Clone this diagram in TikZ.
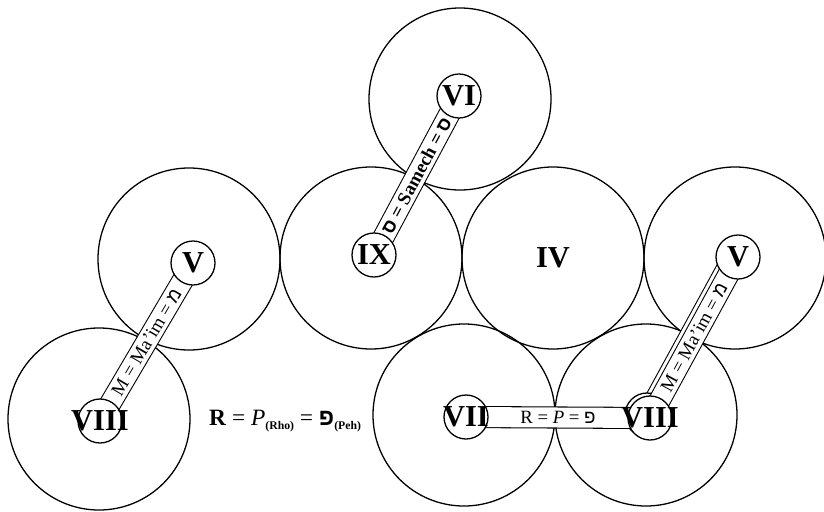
\documentclass[tikz,border=0pt]{standalone}
\usepackage{fontspec}
\setmainfont{Liberation Serif}
\newfontfamily\hebfont[Script=Hebrew]{Liberation Sans}
\TeXXeTstate=1
\newcommand{\heb}[1]{{\hebfont\beginR#1\endR}}
\newcommand{\lowsub}[1]{\raisebox{-0.3ex}{\fontsize{10}{10}\selectfont\bfseries #1}}

\tikzset{
  disc/.style={circle, draw, line width=1.1pt, minimum size=5.46cm, inner sep=0pt},
  ring/.style={circle, draw, fill=white, line width=1.1pt, minimum size=1.32cm, inner sep=0pt},
  numeral/.style={font=\fontsize{26}{26}\selectfont\bfseries, inner sep=0pt},
  strap/.style={double=white, double distance=0.6cm, line width=0.9pt},
  straplabel/.style={font=\fontsize{16}{16}\selectfont, inner sep=0pt},
  caption/.style={font=\fontsize{20}{20}\selectfont, inner sep=0pt}
}

\begin{document}
\begin{tikzpicture}[x=0.03cm, y=-0.03cm]
  \useasboundingbox (0,0) rectangle (824,512);

  % large circles
  \node[disc] (disc-vi) at (460,99) {};
  \node[disc] (disc-vl) at (189,259) {};
  \node[disc] (disc-ix) at (371,258) {};
  \node[disc] (disc-iv) at (553,258) {};
  \node[disc] (disc-vr) at (735,258) {};
  \node[disc] (disc-viiil) at (99,419) {};
  \node[disc] (disc-vii) at (464,415) {};
  \node[disc] (disc-viiir) at (646,415) {};

  % centres of the small rings
  \coordinate (vi) at (459,96);
  \coordinate (ix) at (374,255);
  \coordinate (vl) at (193,263);
  \coordinate (viiil) at (100,421);
  \coordinate (vr) at (738,257);
  \coordinate (viiir) at (650,418);
  \coordinate (vii) at (466,417);

  % faint double outline on the right strap
  \begin{scope}[transform canvas={shift={(-3,-3)}}]
    \draw[strap] (viiir) -- (vr);
    \node[ring] at (viiir) {};
  \end{scope}

  % straps
  \draw[strap] (ix) -- node[sloped, straplabel] {\bfseries\heb{ס} = Samech = \heb{ס}} (vi);
  \draw[strap] (viiil) -- node[sloped, straplabel] {M = Ma’im = \heb{מ}} (vl);
  \draw[strap] (viiir) -- node[sloped, straplabel] {M = Ma’im = \heb{מ}} (vr);
  \draw[strap] (vii) -- node[straplabel] {R = \textit{P} = \heb{פ}} (viiir);

  % small rings
  \node[ring] (ring-vi) at (vi) {};
  \node[ring] (ring-ix) at (ix) {};
  \node[ring] (ring-vl) at (vl) {};
  \node[ring] (ring-viiil) at (viiil) {};
  \node[ring] (ring-vr) at (vr) {};
  \node[ring] (ring-viiir) at (viiir) {};
  \node[ring] (ring-vii) at (vii) {};

  % numerals
  \node[numeral] at (ring-vi) {VI};
  \node[numeral] at (ring-ix) {IX};
  \node[numeral] at (ring-vl) {V};
  \node[numeral] at (ring-viiil) {VIII};
  \node[numeral] at (ring-vr) {V};
  \node[numeral] at (ring-viiir) {VIII};
  \node[numeral] at (ring-vii) {VII};
  \node[numeral] at (disc-iv) {IV};

  \node[caption] (rho) at (285,421) {\textbf{R} = \textit{P}\lowsub{(Rho)} = {\bfseries\heb{פ}}\lowsub{(Peh)}};
\end{tikzpicture}
\end{document}
